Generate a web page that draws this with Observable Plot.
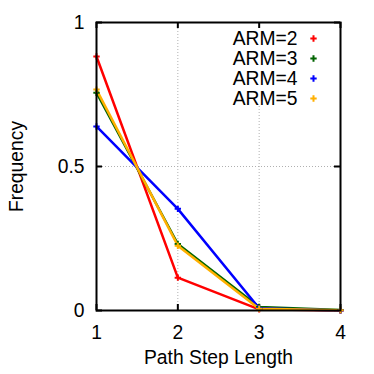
<!DOCTYPE html>
<html>
<head>
<meta charset="utf-8">
<script src="https://cdn.jsdelivr.net/npm/d3@7"></script>
<script src="https://cdn.jsdelivr.net/npm/@observablehq/plot@0.6"></script>
<style>
  html, body { margin: 0; padding: 0; background: #fff; }
  #chart svg { display: block; }
</style>
</head>
<body>
<div id="chart"></div>
<script>
// ---- data ----
const steps = [1, 2, 3, 4];
const seriesNames = ["ARM=2", "ARM=3", "ARM=4", "ARM=5"];
const seriesColors = ["#ff0000", "#006400", "#0000ff", "#ffb000"];
const arm2 = [0.882, 0.114, 0.004, 0.000];
const arm3 = [0.756, 0.231, 0.012, 0.002];
const arm4 = [0.639, 0.353, 0.008, 0.000];
const arm5 = [0.767, 0.225, 0.006, 0.001];
const xTicks = [1, 2, 3, 4];
const yTicks = [0, 0.5, 1];
const yTickLabels = ["0", "0.5", "1"];
const xLabel = "Path Step Length";
const yLabel = "Frequency";

const allSeries = [arm2, arm3, arm4, arm5];
const rows = [];
allSeries.forEach((vals, si) => {
  vals.forEach((v, i) => rows.push({series: seriesNames[si], step: steps[i], value: v}));
});

const font = "'Liberation Sans', Arial, Helvetica, sans-serif";
const fs = 19.3;
const frameH = 288;
const tickLen = 6;

const marks = [
  // grid (dotted)
  Plot.ruleX([2], {stroke: "#b0b0b0", strokeWidth: 1, strokeDasharray: "1,2"}),
  Plot.ruleX([3], {stroke: "#b0b0b0", strokeWidth: 1, strokeDasharray: "1,2", insetTop: 84}),
  Plot.ruleY([0.5], {stroke: "#b0b0b0", strokeWidth: 1, strokeDasharray: "1,2"}),
  // inward ticks on all four sides
  Plot.tickX(xTicks, {x: d => d, stroke: "#000", strokeWidth: 2, insetTop: frameH - tickLen}),
  Plot.tickX(xTicks, {x: d => d, stroke: "#000", strokeWidth: 2, insetBottom: frameH - tickLen}),
  Plot.tickY(yTicks, {y: d => d, stroke: "#000", strokeWidth: 2, insetRight: 244 - tickLen}),
  Plot.tickY(yTicks, {y: d => d, stroke: "#000", strokeWidth: 2, insetLeft: 244 - tickLen}),
  // axes labels
  Plot.axisX(xTicks, {tickSize: 0, tickPadding: 15, fontSize: fs, tickFormat: d => String(d), label: null}),
  Plot.axisY(yTicks, {tickSize: 0, tickPadding: 12, fontSize: fs, tickFormat: d => yTickLabels[yTicks.indexOf(d)], label: null}),
  Plot.text([yLabel], {frameAnchor: "left", dx: -80, rotate: -90, fontSize: fs, textAnchor: "middle", lineAnchor: "middle", fill: "#000"}),
  Plot.text([xLabel], {frameAnchor: "bottom", dy: 47, fontSize: fs, textAnchor: "middle", lineAnchor: "middle", fill: "#000"}),
  // lines
  Plot.line(rows, {x: "step", y: "value", z: "series", stroke: "series", strokeWidth: 2.5, strokeLinejoin: "round"}),
  Plot.dot(rows, {x: "step", y: "value", stroke: "series", symbol: "plus", r: 2.2, strokeWidth: 2}),
  Plot.frame({stroke: "#000", strokeWidth: 2})
];

// legend inside plot (top-right)
seriesNames.forEach((name, i) => {
  marks.push(Plot.text([name], {frameAnchor: "top-right", dx: -43, dy: 16 + i * 20, fontSize: fs, textAnchor: "end", lineAnchor: "middle", fill: "#000"}));
  marks.push(Plot.dot([name], {frameAnchor: "top-right", dx: -27, dy: 16 + i * 20, stroke: seriesColors[i], symbol: "plus", r: 2.2, strokeWidth: 2}));
});

const chart = Plot.plot({
  width: 374,
  height: 374,
  marginLeft: 96,
  marginRight: 34,
  marginTop: 22,
  marginBottom: 64,
  style: {fontFamily: font, fontSize: fs + "px", color: "#000", background: "#fff"},
  x: {domain: [1, 4], axis: null},
  y: {domain: [0, 1], axis: null},
  color: {domain: seriesNames, range: seriesColors},
  marks
});
document.getElementById("chart").appendChild(chart);
</script>
</body>
</html>
